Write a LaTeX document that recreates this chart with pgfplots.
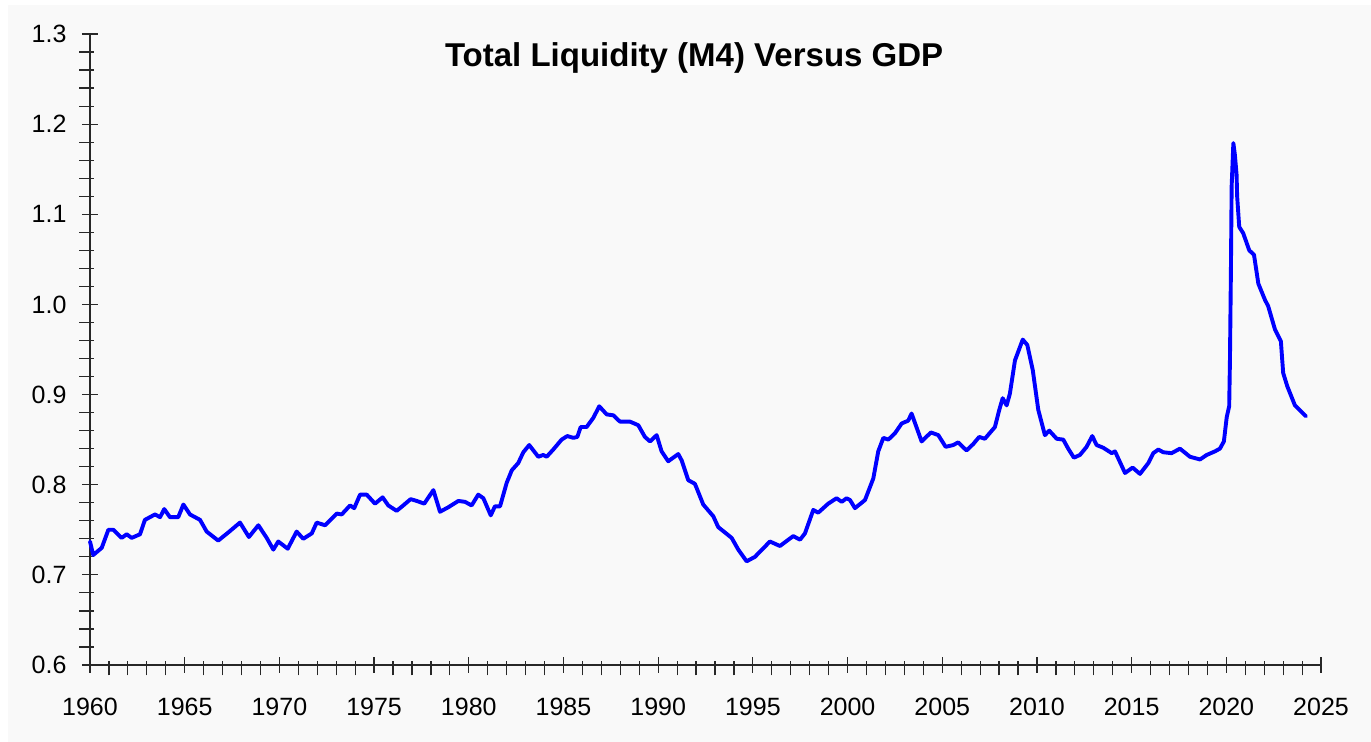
\documentclass[border=0pt]{standalone}
\usepackage{fontspec}
\setmainfont{Liberation Sans}
\usepackage{pgfplots}
\usepackage{pgfplotstable}
\pgfplotsset{compat=1.18}
\definecolor{bg}{RGB}{249,249,249}
\definecolor{axc}{RGB}{40,40,40}
\definecolor{lineblue}{RGB}{0,0,255}
\pgfplotstableread{
x y
1960.00 0.737
1960.17 0.722
1960.62 0.730
1960.97 0.750
1961.23 0.750
1961.67 0.741
1961.94 0.745
1962.20 0.741
1962.64 0.745
1962.90 0.761
1963.43 0.767
1963.70 0.764
1963.92 0.773
1964.22 0.764
1964.66 0.764
1964.93 0.778
1965.28 0.767
1965.81 0.761
1966.16 0.748
1966.77 0.738
1967.30 0.747
1967.92 0.758
1968.39 0.742
1968.89 0.755
1969.33 0.741
1969.68 0.728
1969.94 0.737
1970.44 0.729
1970.91 0.748
1971.26 0.740
1971.71 0.746
1971.97 0.758
1972.41 0.755
1973.03 0.768
1973.29 0.767
1973.73 0.777
1973.95 0.774
1974.26 0.789
1974.61 0.789
1974.96 0.781
1975.05 0.779
1975.45 0.786
1975.75 0.777
1976.19 0.771
1976.54 0.777
1976.93 0.784
1977.25 0.782
1977.65 0.779
1978.13 0.794
1978.48 0.770
1978.92 0.775
1979.45 0.782
1979.80 0.781
1980.15 0.777
1980.50 0.789
1980.77 0.785
1981.16 0.766
1981.38 0.776
1981.65 0.776
1982.00 0.802
1982.27 0.816
1982.61 0.824
1982.88 0.836
1983.19 0.844
1983.67 0.831
1983.93 0.833
1984.11 0.831
1984.46 0.839
1984.90 0.850
1985.20 0.854
1985.52 0.852
1985.73 0.853
1985.91 0.864
1986.22 0.864
1986.57 0.874
1986.89 0.887
1987.28 0.878
1987.63 0.877
1987.98 0.870
1988.51 0.870
1988.95 0.866
1989.30 0.853
1989.57 0.848
1989.92 0.855
1990.18 0.837
1990.53 0.826
1991.06 0.834
1991.24 0.827
1991.59 0.805
1991.94 0.801
1992.38 0.778
1992.91 0.765
1993.17 0.753
1993.88 0.741
1994.23 0.728
1994.67 0.715
1995.11 0.720
1995.90 0.737
1996.43 0.732
1997.13 0.743
1997.49 0.739
1997.75 0.746
1998.19 0.772
1998.45 0.769
1998.98 0.779
1999.42 0.785
1999.69 0.781
1999.95 0.785
2000.13 0.783
2000.39 0.774
2000.92 0.783
2001.36 0.807
2001.62 0.837
2001.89 0.852
2002.15 0.850
2002.50 0.857
2002.86 0.868
2003.20 0.871
2003.38 0.879
2003.91 0.848
2004.40 0.858
2004.79 0.855
2005.18 0.842
2005.58 0.844
2005.84 0.847
2006.28 0.838
2006.63 0.845
2006.95 0.853
2007.25 0.851
2007.78 0.864
2008.01 0.883
2008.19 0.896
2008.40 0.888
2008.57 0.901
2008.84 0.938
2009.25 0.961
2009.49 0.955
2009.78 0.927
2010.07 0.883
2010.42 0.855
2010.65 0.860
2011.04 0.851
2011.39 0.850
2011.65 0.840
2011.95 0.830
2012.27 0.833
2012.62 0.842
2012.92 0.854
2013.15 0.844
2013.50 0.841
2013.95 0.835
2014.12 0.837
2014.65 0.813
2015.05 0.819
2015.44 0.812
2015.88 0.824
2016.14 0.835
2016.41 0.839
2016.67 0.836
2017.11 0.835
2017.55 0.840
2018.08 0.831
2018.61 0.828
2018.96 0.833
2019.40 0.837
2019.66 0.840
2019.87 0.848
2020.02 0.875
2020.15 0.887
2020.19 0.938
2020.24 1.035
2020.28 1.131
2020.37 1.179
2020.45 1.166
2020.54 1.144
2020.57 1.120
2020.68 1.086
2020.89 1.079
2021.21 1.060
2021.46 1.055
2021.69 1.023
2022.04 1.005
2022.21 0.998
2022.57 0.972
2022.88 0.959
2023.00 0.924
2023.22 0.909
2023.62 0.888
2024.20 0.876
}\liquidity
\begin{document}
\begin{tikzpicture}
\fill[white] (0,0) rectangle (1371bp,742bp);
\fill[bg] (8bp,0) rectangle (1371bp,737bp);
\begin{axis}[
  at={(90bp,77bp)}, anchor=south west,
  scale only axis, width=1231bp, height=631bp,
  xmin=1960, xmax=2025, ymin=0.6, ymax=1.3,
  axis lines=left,
  axis line style={-, axc, line width=1.4bp},
  xtick={1960,1965,1970,1975,1980,1985,1990,1995,2000,2005,2010,2015,2020,2025},
  ytick={0.6,0.7,0.8,0.9,1.0,1.1,1.2,1.3},
  minor x tick num=4, minor y tick num=4,
  tick align=center,
  major tick length=16bp, minor tick length=14bp,
  tick style={axc, line width=1.2bp},
  minor x tick style={yshift=-3.5bp},
  minor y tick style={xshift=-3.5bp},
  ticklabel style={font=\fontsize{25bp}{30bp}\selectfont, text=black},
  /pgf/number format/assume math mode=true,
  yticklabel style={xshift=-12bp, /pgf/number format/.cd, fixed, fixed zerofill, precision=1},
  xticklabel style={yshift=-22bp, /pgf/number format/1000 sep={}},
  clip=false,
]
\addplot[lineblue, line width=3.9bp, line join=round, line cap=round] table[x=x, y=y] {\liquidity};
\node[font=\bfseries\fontsize{33bp}{40bp}\selectfont, text=black] at (rel axis cs:0.4907,0.962) {Total Liquidity (M4) Versus GDP};
\end{axis}
\end{tikzpicture}
\end{document}
